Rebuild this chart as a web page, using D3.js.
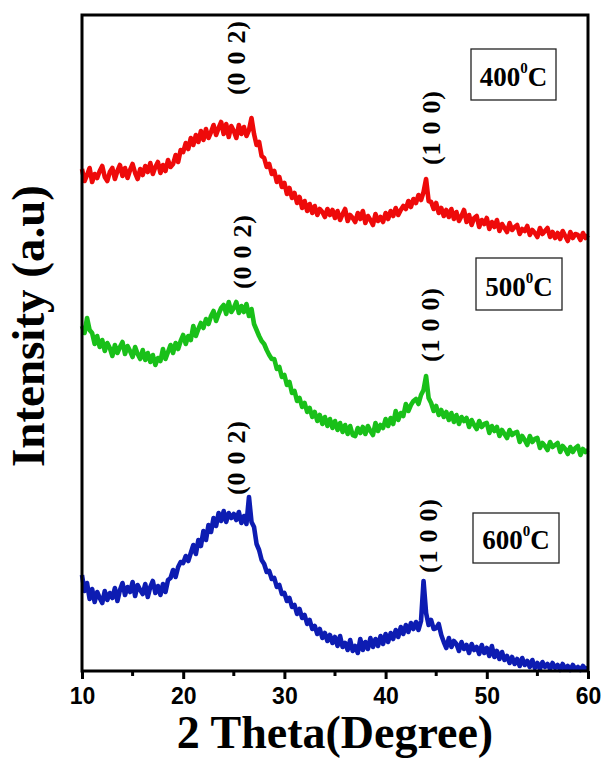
<!DOCTYPE html>
<html>
<head>
<meta charset="utf-8">
<script src="https://cdn.jsdelivr.net/npm/d3@7/dist/d3.min.js"></script>
<style>
  html, body { margin: 0; padding: 0; background: #fff; }
  svg { display: block; }
</style>
</head>
<body>
<svg id="chart" width="604" height="761"></svg>
<script>
// XRD patterns of carbon annealed at three temperatures (offset for clarity)
const thetaStart = 10, thetaEnd = 60, thetaStep = 0.25;
const theta = d3.range(thetaStart, thetaEnd + thetaStep / 2, thetaStep);

const xTicks = [10, 20, 30, 40, 50, 60];
const sampleNames = ["400", "500", "600"];
const hklLabels = ["(0 0 2)", "(1 0 0)"];

// intensity (a.u.), one value per 0.25° step from 10° to 60°
const intensity400 = [
  502,490,496,503, 489,497,493,500, 505,494,490,499, 503,492,500,506,
  495,503,493,501, 507,498,492,502, 496,505,499,508, 497,504,509,498,
  506,500,511,504, 507,516,509,521, 519,528,522,533, 526,536,529,540,
  531,542,533,539, 546,536,543,549, 537,547,534,545, 540,533,546,537,
  544,535,541,553, 537,526,529,515, 513,504,507,497, 500,489,494,484,
  488,477,483,473, 478,468,474,463, 470,460,467,458, 465,456,462,459,
  454,462,456,461, 453,460,451,457, 462,450,456,453, 449,458,452,460,
  448,455,451,446, 457,450,454,449, 458,452,460,455, 463,456,461,465,
  462,470,464,472, 468,476,471,479, 492,470,469,462, 468,458,463,455,
  461,454,462,452, 459,450,455,461, 449,456,446,453, 455,444,451,447,
  453,442,449,444, 451,440,447,443, 439,448,441,444, 446,437,442,440,
  445,436,441,438, 434,443,437,440, 443,434,439,433, 438,432,440,435,
  430,439,433,437, 436,431,438,433, 436
];
const intensity500 = [
  345,338,353,341, 338,327,335,324, 331,320,328,323, 315,326,318,324,
  329,317,325,320, 314,324,317,312, 321,311,318,309, 316,306,313,310,
  322,312,319,326, 318,328,322,330, 336,327,335,331, 345,335,342,348,
  343,352,347,355, 360,350,357,363, 366,357,369,359, 363,369,358,365,
  359,367,355,362, 347,341,335,330, 327,321,316,312, 312,302,304,294,
  296,286,289,278, 280,270,273,264, 268,259,263,254, 259,250,256,247,
  254,245,252,243, 250,241,248,239, 246,237,245,236, 235,243,238,244,
  237,245,240,236, 248,240,246,243, 252,245,253,247, 260,251,258,255,
  267,260,266,270, 272,267,276,281, 295,273,268,260, 265,256,261,254,
  259,251,258,249, 256,247,254,250, 253,244,251,246, 242,250,244,247,
  248,238,245,240, 244,235,241,237, 233,241,236,238, 239,229,235,231,
  226,235,229,232, 233,223,228,225, 221,229,224,226, 228,219,225,222,
  217,224,219,223, 225,216,222,219, 221
];
const intensity600 = [
  96,80,88,72, 82,69,79,73, 68,80,71,78, 73,83,70,81,
  88,76,84,79, 89,75,86,81, 77,87,74,84, 90,78,85,76,
  87,79,91,93, 101,94,104,109, 108,115,110,118, 126,117,131,125,
  140,131,146,139, 153,145,158,150, 160,149,158,153, 157,151,159,148,
  155,147,174,149, 144,127,121,111, 107,99,100,92, 93,84,86,77,
  78,70,73,64, 66,57,62,53, 56,47,51,42, 45,37,42,33,
  38,30,36,28, 34,25,35,24, 28,21,31,20, 25,18,32,21,
  29,22,33,24, 32,25,35,27, 37,29,38,32, 41,34,44,37,
  46,39,48,42, 49,41,50,90, 58,46,51,42, 43,47,36,29,
  23,33,24,30, 27,20,29,22, 26,18,27,21, 24,17,26,18,
  23,15,25,14, 20,12,19,11, 15,8,14,7, 12,5,13,6,
  10,4,11,3, 8,2,9,4, 7,2,8,3, 6,1,7,2,
  5,1,6,2, 4,1,5,2, 3
];

const series = [
  { name: sampleNames[0], values: intensity400, color: "#ee0a0a" },
  { name: sampleNames[1], values: intensity500, color: "#19c019" },
  { name: sampleNames[2], values: intensity600, color: "#0d1cb2" }
];

// frame of the plotting area
const plot = { left: 82, right: 588, top: 15, bottom: 671 };

const svg = d3.select("#chart");

const x = d3.scaleLinear().domain([thetaStart, thetaEnd]).range([plot.left, plot.right]);
const y = d3.scaleLinear().domain([0, 656]).range([plot.bottom, plot.top]);

// traces
const line = d3.line()
  .x((d, i) => x(theta[i]))
  .y(d => y(d));

svg.append("g")
  .selectAll("path")
  .data(series)
  .join("path")
  .attr("d", s => line(s.values))
  .attr("fill", "none")
  .attr("stroke", s => s.color)
  .attr("stroke-width", 4.6)
  .attr("stroke-linejoin", "round");

// bottom axis: major ticks labelled, minor ticks between
const axis = d3.axisBottom(x)
  .tickValues(xTicks)
  .tickFormat(d3.format("d"))
  .tickSize(8)
  .tickPadding(9);

const gx = svg.append("g")
  .attr("transform", `translate(0,${plot.bottom})`)
  .call(axis);
gx.select(".domain").remove();
gx.selectAll(".tick line").attr("stroke", "#000").attr("stroke-width", 3);
gx.selectAll(".tick text")
  .attr("fill", "#000")
  .style("font-family", "'Liberation Sans', Arial, sans-serif")
  .style("font-weight", "bold")
  .style("font-size", "23px");

const minorTicks = d3.range(15, 60, 10);
svg.append("g")
  .selectAll("line")
  .data(minorTicks)
  .join("line")
  .attr("x1", d => x(d)).attr("x2", d => x(d))
  .attr("y1", plot.bottom).attr("y2", plot.bottom + 5)
  .attr("stroke", "#000").attr("stroke-width", 3);

// frame
svg.append("rect")
  .attr("x", plot.left).attr("y", plot.top)
  .attr("width", plot.right - plot.left)
  .attr("height", plot.bottom - plot.top)
  .attr("fill", "none")
  .attr("stroke", "#000")
  .attr("stroke-width", 3);

const serif = "'Liberation Serif', 'Times New Roman', serif";

// axis titles
svg.append("text")
  .attr("x", 335).attr("y", 748)
  .attr("text-anchor", "middle")
  .style("font-family", serif).style("font-weight", "bold").style("font-size", "46px")
  .text("2 Theta(Degree)");

svg.append("text")
  .attr("transform", "translate(44,326) rotate(-90)")
  .attr("text-anchor", "middle")
  .style("font-family", serif).style("font-weight", "bold").style("font-size", "47px")
  .text("Intensity (a.u)");

// reflection labels, placed per trace (theta, intensity of label centre)
const peakPlacement = [
  [[25.3, 613], [44.6, 543]],
  [[25.9, 419], [44.5, 346]],
  [[25.3, 213], [44.3, 135]]
];
series.forEach((s, si) => {
  hklLabels.forEach((lab, li) => {
    const [t, v] = peakPlacement[si][li];
    svg.append("text")
      .attr("transform", `translate(${x(t) + 8},${y(v)}) rotate(-90)`)
      .attr("text-anchor", "middle")
      .attr("textLength", 74)
      .attr("lengthAdjust", "spacing")
      .style("font-family", serif).style("font-weight", "bold").style("font-size", "26px")
      .text(lab);
  });
});

// temperature tags
const tagBoxes = [
  { x: 471, y: 49, w: 85, h: 51 },
  { x: 476, y: 258, w: 86, h: 52 },
  { x: 473, y: 513, w: 86, h: 50 }
];
series.forEach((s, i) => {
  const b = tagBoxes[i];
  svg.append("rect")
    .attr("x", b.x).attr("y", b.y).attr("width", b.w).attr("height", b.h)
    .attr("fill", "#fff").attr("stroke", "#222").attr("stroke-width", 1.3);
  const t = svg.append("text")
    .attr("x", b.x + b.w / 2).attr("y", b.y + b.h - 14)
    .attr("text-anchor", "middle")
    .style("font-family", serif).style("font-weight", "bold").style("font-size", "27px");
  t.append("tspan").text(s.name);
  t.append("tspan").attr("dy", -13).style("font-size", "15px").text("0");
  t.append("tspan").attr("dy", 13).text("C");
});
</script>
</body>
</html>
